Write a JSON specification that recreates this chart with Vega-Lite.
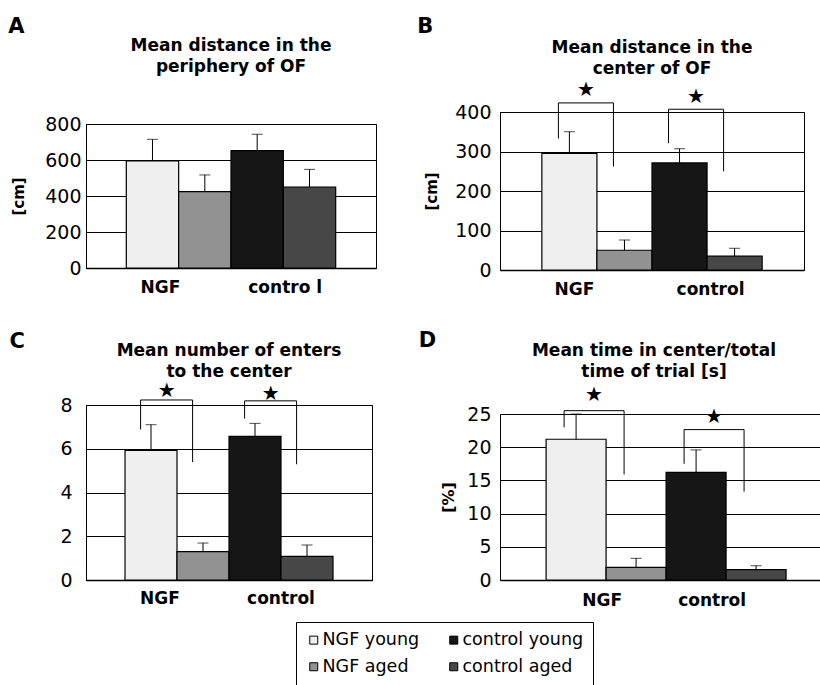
{
  "$schema": "https://vega.github.io/schema/vega-lite/v6.json",
  "background": "white",
  "padding": {"left": 8, "top": 8, "right": 0, "bottom": 0},
  "datasets": {
    "bars": [
      {"panel": "A", "bar": "NGF young", "mean": 595, "upper": 715},
      {"panel": "A", "bar": "NGF aged", "mean": 424, "upper": 517},
      {"panel": "A", "bar": "control young", "mean": 652, "upper": 743},
      {"panel": "A", "bar": "control aged", "mean": 450, "upper": 548},
      {"panel": "B", "bar": "NGF young", "mean": 295, "upper": 350},
      {"panel": "B", "bar": "NGF aged", "mean": 50, "upper": 76},
      {"panel": "B", "bar": "control young", "mean": 271, "upper": 307},
      {"panel": "B", "bar": "control aged", "mean": 35, "upper": 55},
      {"panel": "C", "bar": "NGF young", "mean": 5.92, "upper": 7.1},
      {"panel": "C", "bar": "NGF aged", "mean": 1.3, "upper": 1.69},
      {"panel": "C", "bar": "control young", "mean": 6.57, "upper": 7.16},
      {"panel": "C", "bar": "control aged", "mean": 1.08, "upper": 1.6},
      {"panel": "D", "bar": "NGF young", "mean": 21.2, "upper": 25},
      {"panel": "D", "bar": "NGF aged", "mean": 1.9, "upper": 3.26},
      {"panel": "D", "bar": "control young", "mean": 16.2, "upper": 19.6},
      {"panel": "D", "bar": "control aged", "mean": 1.55, "upper": 2.15}
    ],
    "brackets": [
      {"panel": "B", "group": "NGF", "bar": "NGF young", "y": 333, "ord": 1},
      {"panel": "B", "group": "NGF", "bar": "NGF young", "y": 423, "ord": 2},
      {"panel": "B", "group": "NGF", "bar": "NGF aged", "y": 423, "ord": 3},
      {"panel": "B", "group": "NGF", "bar": "NGF aged", "y": 262, "ord": 4},
      {"panel": "B", "group": "control", "bar": "control young", "y": 321, "ord": 1},
      {"panel": "B", "group": "control", "bar": "control young", "y": 407, "ord": 2},
      {"panel": "B", "group": "control", "bar": "control aged", "y": 407, "ord": 3},
      {"panel": "B", "group": "control", "bar": "control aged", "y": 250, "ord": 4},
      {"panel": "C", "group": "NGF", "bar": "NGF young", "y": 6.88, "ord": 1},
      {"panel": "C", "group": "NGF", "bar": "NGF young", "y": 8.23, "ord": 2},
      {"panel": "C", "group": "NGF", "bar": "NGF aged", "y": 8.23, "ord": 3},
      {"panel": "C", "group": "NGF", "bar": "NGF aged", "y": 5.39, "ord": 4},
      {"panel": "C", "group": "control", "bar": "control young", "y": 7.38, "ord": 1},
      {"panel": "C", "group": "control", "bar": "control young", "y": 8.19, "ord": 2},
      {"panel": "C", "group": "control", "bar": "control aged", "y": 8.19, "ord": 3},
      {"panel": "C", "group": "control", "bar": "control aged", "y": 5.29, "ord": 4},
      {"panel": "D", "group": "NGF", "bar": "NGF young", "y": 23.0, "ord": 1},
      {"panel": "D", "group": "NGF", "bar": "NGF young", "y": 25.5, "ord": 2},
      {"panel": "D", "group": "NGF", "bar": "NGF aged", "y": 25.5, "ord": 3},
      {"panel": "D", "group": "NGF", "bar": "NGF aged", "y": 15.9, "ord": 4},
      {"panel": "D", "group": "control", "bar": "control young", "y": 17.5, "ord": 1},
      {"panel": "D", "group": "control", "bar": "control young", "y": 22.65, "ord": 2},
      {"panel": "D", "group": "control", "bar": "control aged", "y": 22.65, "ord": 3},
      {"panel": "D", "group": "control", "bar": "control aged", "y": 13.3, "ord": 4}
    ],
    "stars": [
      {"panel": "B", "bar": "NGF young", "y": 455},
      {"panel": "B", "bar": "control young", "y": 437},
      {"panel": "C", "bar": "NGF young", "y": 8.66},
      {"panel": "C", "bar": "control young", "y": 8.51},
      {"panel": "D", "bar": "NGF young", "y": 27.9},
      {"panel": "D", "bar": "control young", "y": 24.55}
    ]
  },
  "config": {
    "font": "DejaVu Sans",
    "view": {"stroke": "black", "strokeWidth": 1},
    "axis": {"labelFont": "DejaVu Sans", "labelColor": "black", "titleFont": "DejaVu Sans", "titleColor": "black", "domainColor": "black", "gridColor": "black", "gridOpacity": 1, "gridWidth": 1, "ticks": false},
    "title": {"font": "DejaVu Sans", "fontSize": 17, "fontWeight": "bold", "color": "black", "lineHeight": 21},
    "text": {"font": "DejaVu Sans"}
  },
  "spacing": 40,
  "hconcat": [
    {
      "spacing": 0,
      "vconcat": [
        {"width": 1, "height": 1, "view": {"stroke": null}, "data": {"values": [{}]}, "mark": {"type": "point", "opacity": 0}, "encoding": {}},
        {
          "spacing": 35,
          "vconcat": [
            {
              "title": {"text": "A", "anchor": "start", "fontSize": 21, "offset": 0, "dx": -3},
              "vconcat": [
                {
                  "width": 290, "height": 144,
                  "title": {"text": ["Mean distance in the", "periphery of OF"], "frame": "group", "offset": 39},
                  "encoding": {"x": {"field": "bar", "type": "nominal", "title": null, "scale": {"domain": ["NGF young", "NGF aged", "control young", "control aged"], "paddingInner": 0, "paddingOuter": 0.77},
                    "axis": {"title": null, "values": ["NGF young", "control young"], "labelOffset": {"condition": {"test": "datum.value === 'NGF young'", "value": 8}, "value": 28}, "labelExpr": "datum.value == 'NGF young' ? 'NGF' : 'contro l'", "labelFontSize": 17, "labelFontWeight": "bold", "labelPadding": 11, "labelAngle": 0, "grid": false, "domainWidth": 1.5}}},
                  "layer": [
                    {"data": {"name": "bars"}, "transform": [{"filter": "datum.panel === 'A'"}],
                      "mark": {"type": "bar", "stroke": "black", "strokeWidth": 1.2},
                      "encoding": {
                        "y": {"field": "mean", "type": "quantitative", "title": "[cm]", "scale": {"domain": [0, 800], "nice": false}, "axis": {"title": "[cm]", "values": [0, 200, 400, 600, 800], "labelFontSize": 19, "labelPadding": 5, "titleFontSize": 15, "titleFontWeight": "bold", "titlePadding": 18, "grid": true, "domain": true}},
                        "color": {"field": "bar", "type": "nominal", "scale": {"domain": ["NGF young", "NGF aged", "control young", "control aged"], "range": ["#efefef", "#929292", "#161616", "#474747"]},
                          "legend": {"orient": "none", "legendX": 210, "legendY": 611, "columns": 2, "gridAlign": "each", "title": null, "symbolType": "square", "symbolSize": 64, "symbolStrokeColor": "black", "symbolStrokeWidth": 1, "labelFont": "DejaVu Sans", "labelFontSize": 17.5, "labelColor": "black", "labelOffset": 0, "columnPadding": 25, "rowPadding": 8, "padding": 9, "strokeColor": "black", "fillColor": "white"}}
                      }},
                    {"data": {"name": "bars"}, "transform": [{"filter": "datum.panel === 'A'"}],
                      "mark": {"type": "rule", "color": "black", "strokeWidth": 1},
                      "encoding": {"y": {"field": "mean", "type": "quantitative", "title": "[cm]", "axis": {"title": "[cm]", "values": [0, 200, 400, 600, 800], "labelFontSize": 19, "labelPadding": 5, "titleFontSize": 15, "titleFontWeight": "bold", "titlePadding": 18, "grid": true, "domain": true}}, "y2": {"field": "upper"}}},
                    {"data": {"name": "bars"}, "transform": [{"filter": "datum.panel === 'A'"}],
                      "mark": {"type": "tick", "size": 11, "thickness": 1, "color": "black"},
                      "encoding": {"y": {"field": "upper", "type": "quantitative", "title": "[cm]", "axis": {"title": "[cm]", "values": [0, 200, 400, 600, 800], "labelFontSize": 19, "labelPadding": 5, "titleFontSize": 15, "titleFontWeight": "bold", "titlePadding": 18, "grid": true, "domain": true}}}}
                  ]
                }
              ]
            },
            {
              "title": {"text": "C", "anchor": "start", "fontSize": 21, "offset": -11, "dx": -50},
              "vconcat": [
                {
                  "width": 286, "height": 175,
                  "title": {"text": ["Mean number of enters", "to the center"], "frame": "group", "offset": 0},
                  "encoding": {"x": {"field": "bar", "type": "nominal", "title": null, "scale": {"domain": ["NGF young", "NGF aged", "control young", "control aged"], "paddingInner": 0, "paddingOuter": 0.75},
                    "axis": {"title": null, "values": ["NGF young", "control young"], "labelOffset": {"condition": {"test": "datum.value === 'NGF young'", "value": 9}, "value": 26}, "labelExpr": "datum.value == 'NGF young' ? 'NGF' : 'control'", "labelFontSize": 17, "labelFontWeight": "bold", "labelPadding": 10, "labelAngle": 0, "grid": false, "domainWidth": 1.5}}},
                  "layer": [
                    {"data": {"name": "bars"}, "transform": [{"filter": "datum.panel === 'C'"}],
                      "mark": {"type": "bar", "stroke": "black", "strokeWidth": 1.2},
                      "encoding": {
                        "y": {"field": "mean", "type": "quantitative", "title": null, "scale": {"domain": [0, 8], "nice": false}, "axis": {"title": null, "values": [0, 2, 4, 6, 8], "labelFontSize": 19, "labelPadding": 14, "grid": true, "domain": true}},
                        "color": {"field": "bar", "type": "nominal", "scale": {"domain": ["NGF young", "NGF aged", "control young", "control aged"], "range": ["#efefef", "#929292", "#161616", "#474747"]},
                          "legend": {"orient": "none", "legendX": 210, "legendY": 611, "columns": 2, "gridAlign": "each", "title": null, "symbolType": "square", "symbolSize": 64, "symbolStrokeColor": "black", "symbolStrokeWidth": 1, "labelFont": "DejaVu Sans", "labelFontSize": 17.5, "labelColor": "black", "labelOffset": 0, "columnPadding": 25, "rowPadding": 8, "padding": 9, "strokeColor": "black", "fillColor": "white"}}
                      }},
                    {"data": {"name": "bars"}, "transform": [{"filter": "datum.panel === 'C'"}],
                      "mark": {"type": "rule", "color": "black", "strokeWidth": 1},
                      "encoding": {"y": {"field": "mean", "type": "quantitative", "title": null, "axis": {"title": null, "values": [0, 2, 4, 6, 8], "labelFontSize": 19, "labelPadding": 14, "grid": true, "domain": true}}, "y2": {"field": "upper"}}},
                    {"data": {"name": "bars"}, "transform": [{"filter": "datum.panel === 'C'"}],
                      "mark": {"type": "tick", "size": 11, "thickness": 1, "color": "black"},
                      "encoding": {"y": {"field": "upper", "type": "quantitative", "title": null, "axis": {"title": null, "values": [0, 2, 4, 6, 8], "labelFontSize": 19, "labelPadding": 14, "grid": true, "domain": true}}}},
                    {"data": {"name": "brackets"}, "transform": [{"filter": "datum.panel === 'C'"}],
                      "mark": {"type": "line", "color": "black", "strokeWidth": 1},
                      "encoding": {"x": {"field": "bar", "type": "nominal", "bandPosition": 0.3, "title": null}, "y": {"field": "y", "type": "quantitative", "title": null, "axis": {"title": null, "values": [0, 2, 4, 6, 8], "labelFontSize": 19, "labelPadding": 14, "grid": true, "domain": true}}, "detail": {"field": "group"}, "order": {"field": "ord", "type": "quantitative"}}},
                    {"data": {"name": "stars"}, "transform": [{"filter": "datum.panel === 'C'"}],
                      "mark": {"type": "text", "text": "★", "fontSize": 20, "font": "DejaVu Sans", "color": "black", "baseline": "middle", "align": "center"},
                      "encoding": {"x": {"field": "bar", "type": "nominal", "bandPosition": 0.8, "title": null}, "y": {"field": "y", "type": "quantitative", "title": null, "axis": {"title": null, "values": [0, 2, 4, 6, 8], "labelFontSize": 19, "labelPadding": 14, "grid": true, "domain": true}}}}
                  ]
                }
              ]
            }
          ]
        }
      ]
    },
    {
      "spacing": 0,
      "vconcat": [
        {"width": 1, "height": 1, "view": {"stroke": null}, "data": {"values": [{}]}, "mark": {"type": "point", "opacity": 0}, "encoding": {}},
        {
          "spacing": 31,
          "vconcat": [
            {
              "title": {"text": "B", "anchor": "start", "fontSize": 21, "offset": 2, "dx": -7},
              "vconcat": [
                {
                  "width": 304, "height": 158,
                  "title": {"text": ["Mean distance in the", "center of OF"], "frame": "group", "offset": 2},
                  "encoding": {"x": {"field": "bar", "type": "nominal", "title": null, "scale": {"domain": ["NGF young", "NGF aged", "control young", "control aged"], "paddingInner": 0, "paddingOuter": 0.76},
                    "axis": {"title": null, "values": ["NGF young", "control young"], "labelOffset": {"condition": {"test": "datum.value === 'NGF young'", "value": 5}, "value": 31}, "labelExpr": "datum.value == 'NGF young' ? 'NGF' : 'control'", "labelFontSize": 17, "labelFontWeight": "bold", "labelPadding": 11, "labelAngle": 0, "grid": false, "domainWidth": 1.5}}},
                  "layer": [
                    {"data": {"name": "bars"}, "transform": [{"filter": "datum.panel === 'B'"}],
                      "mark": {"type": "bar", "stroke": "black", "strokeWidth": 1.2},
                      "encoding": {
                        "y": {"field": "mean", "type": "quantitative", "title": "[cm]", "scale": {"domain": [0, 400], "nice": false}, "axis": {"title": "[cm]", "values": [0, 100, 200, 300, 400], "labelFontSize": 19, "labelPadding": 9, "titleFontSize": 15, "titleFontWeight": "bold", "titlePadding": 15, "grid": true, "domain": true}},
                        "color": {"field": "bar", "type": "nominal", "scale": {"domain": ["NGF young", "NGF aged", "control young", "control aged"], "range": ["#efefef", "#929292", "#161616", "#474747"]},
                          "legend": {"orient": "none", "legendX": 210, "legendY": 611, "columns": 2, "gridAlign": "each", "title": null, "symbolType": "square", "symbolSize": 64, "symbolStrokeColor": "black", "symbolStrokeWidth": 1, "labelFont": "DejaVu Sans", "labelFontSize": 17.5, "labelColor": "black", "labelOffset": 0, "columnPadding": 25, "rowPadding": 8, "padding": 9, "strokeColor": "black", "fillColor": "white"}}
                      }},
                    {"data": {"name": "bars"}, "transform": [{"filter": "datum.panel === 'B'"}],
                      "mark": {"type": "rule", "color": "black", "strokeWidth": 1},
                      "encoding": {"y": {"field": "mean", "type": "quantitative", "title": "[cm]", "axis": {"title": "[cm]", "values": [0, 100, 200, 300, 400], "labelFontSize": 19, "labelPadding": 9, "titleFontSize": 15, "titleFontWeight": "bold", "titlePadding": 15, "grid": true, "domain": true}}, "y2": {"field": "upper"}}},
                    {"data": {"name": "bars"}, "transform": [{"filter": "datum.panel === 'B'"}],
                      "mark": {"type": "tick", "size": 11, "thickness": 1, "color": "black"},
                      "encoding": {"y": {"field": "upper", "type": "quantitative", "title": "[cm]", "axis": {"title": "[cm]", "values": [0, 100, 200, 300, 400], "labelFontSize": 19, "labelPadding": 9, "titleFontSize": 15, "titleFontWeight": "bold", "titlePadding": 15, "grid": true, "domain": true}}}},
                    {"data": {"name": "brackets"}, "transform": [{"filter": "datum.panel === 'B'"}],
                      "mark": {"type": "line", "color": "black", "strokeWidth": 1},
                      "encoding": {"x": {"field": "bar", "type": "nominal", "bandPosition": 0.3, "title": null}, "y": {"field": "y", "type": "quantitative", "title": "[cm]", "axis": {"title": "[cm]", "values": [0, 100, 200, 300, 400], "labelFontSize": 19, "labelPadding": 9, "titleFontSize": 15, "titleFontWeight": "bold", "titlePadding": 15, "grid": true, "domain": true}}, "detail": {"field": "group"}, "order": {"field": "ord", "type": "quantitative"}}},
                    {"data": {"name": "stars"}, "transform": [{"filter": "datum.panel === 'B'"}],
                      "mark": {"type": "text", "text": "★", "fontSize": 20, "font": "DejaVu Sans", "color": "black", "baseline": "middle", "align": "center"},
                      "encoding": {"x": {"field": "bar", "type": "nominal", "bandPosition": 0.8, "title": null}, "y": {"field": "y", "type": "quantitative", "title": "[cm]", "axis": {"title": "[cm]", "values": [0, 100, 200, 300, 400], "labelFontSize": 19, "labelPadding": 9, "titleFontSize": 15, "titleFontWeight": "bold", "titlePadding": 15, "grid": true, "domain": true}}}}
                  ]
                }
              ]
            },
            {
              "title": {"text": "D", "anchor": "start", "fontSize": 21, "offset": -9, "dx": -22},
              "vconcat": [
                {
                  "width": 320, "height": 166,
                  "view": {"stroke": null},
                  "title": {"text": ["Mean time in center/total", "time of trial [s]"], "frame": "group", "offset": 4, "dx": -6},
                  "encoding": {"x": {"field": "bar", "type": "nominal", "title": null, "scale": {"domain": ["NGF young", "NGF aged", "control young", "control aged"], "paddingInner": 0, "paddingOuter": 0.667, "align": 0.576},
                    "axis": {"title": null, "values": ["NGF young", "control young"], "labelOffset": {"condition": {"test": "datum.value === 'NGF young'", "value": 26}, "value": 16}, "labelExpr": "datum.value == 'NGF young' ? 'NGF' : 'control'", "labelFontSize": 17, "labelFontWeight": "bold", "labelPadding": 12, "labelAngle": 0, "grid": false, "domainWidth": 1.5}}},
                  "layer": [
                    {"data": {"name": "bars"}, "transform": [{"filter": "datum.panel === 'D'"}],
                      "mark": {"type": "bar", "stroke": "black", "strokeWidth": 1.2},
                      "encoding": {
                        "y": {"field": "mean", "type": "quantitative", "title": "[%]", "scale": {"domain": [0, 25], "nice": false}, "axis": {"title": "[%]", "values": [0, 5, 10, 15, 20, 25], "labelFontSize": 19, "labelPadding": 9, "titleFontSize": 16, "titleFontWeight": "bold", "titlePadding": 10, "grid": true, "domain": true}},
                        "color": {"field": "bar", "type": "nominal", "scale": {"domain": ["NGF young", "NGF aged", "control young", "control aged"], "range": ["#efefef", "#929292", "#161616", "#474747"]},
                          "legend": {"orient": "none", "legendX": 210, "legendY": 611, "columns": 2, "gridAlign": "each", "title": null, "symbolType": "square", "symbolSize": 64, "symbolStrokeColor": "black", "symbolStrokeWidth": 1, "labelFont": "DejaVu Sans", "labelFontSize": 17.5, "labelColor": "black", "labelOffset": 0, "columnPadding": 25, "rowPadding": 8, "padding": 9, "strokeColor": "black", "fillColor": "white"}}
                      }},
                    {"data": {"name": "bars"}, "transform": [{"filter": "datum.panel === 'D'"}],
                      "mark": {"type": "rule", "color": "black", "strokeWidth": 1},
                      "encoding": {"y": {"field": "mean", "type": "quantitative", "title": "[%]", "axis": {"title": "[%]", "values": [0, 5, 10, 15, 20, 25], "labelFontSize": 19, "labelPadding": 9, "titleFontSize": 16, "titleFontWeight": "bold", "titlePadding": 10, "grid": true, "domain": true}}, "y2": {"field": "upper"}}},
                    {"data": {"name": "bars"}, "transform": [{"filter": "datum.panel === 'D'"}],
                      "mark": {"type": "tick", "size": 11, "thickness": 1, "color": "black"},
                      "encoding": {"y": {"field": "upper", "type": "quantitative", "title": "[%]", "axis": {"title": "[%]", "values": [0, 5, 10, 15, 20, 25], "labelFontSize": 19, "labelPadding": 9, "titleFontSize": 16, "titleFontWeight": "bold", "titlePadding": 10, "grid": true, "domain": true}}}},
                    {"data": {"name": "brackets"}, "transform": [{"filter": "datum.panel === 'D'"}],
                      "mark": {"type": "line", "color": "black", "strokeWidth": 1},
                      "encoding": {"x": {"field": "bar", "type": "nominal", "bandPosition": 0.3, "title": null}, "y": {"field": "y", "type": "quantitative", "title": "[%]", "axis": {"title": "[%]", "values": [0, 5, 10, 15, 20, 25], "labelFontSize": 19, "labelPadding": 9, "titleFontSize": 16, "titleFontWeight": "bold", "titlePadding": 10, "grid": true, "domain": true}}, "detail": {"field": "group"}, "order": {"field": "ord", "type": "quantitative"}}},
                    {"data": {"name": "stars"}, "transform": [{"filter": "datum.panel === 'D'"}],
                      "mark": {"type": "text", "text": "★", "fontSize": 20, "font": "DejaVu Sans", "color": "black", "baseline": "middle", "align": "center"},
                      "encoding": {"x": {"field": "bar", "type": "nominal", "bandPosition": 0.8, "title": null}, "y": {"field": "y", "type": "quantitative", "title": "[%]", "axis": {"title": "[%]", "values": [0, 5, 10, 15, 20, 25], "labelFontSize": 19, "labelPadding": 9, "titleFontSize": 16, "titleFontWeight": "bold", "titlePadding": 10, "grid": true, "domain": true}}}}
                  ]
                }
              ]
            }
          ]
        }
      ]
    }
  ]
}
